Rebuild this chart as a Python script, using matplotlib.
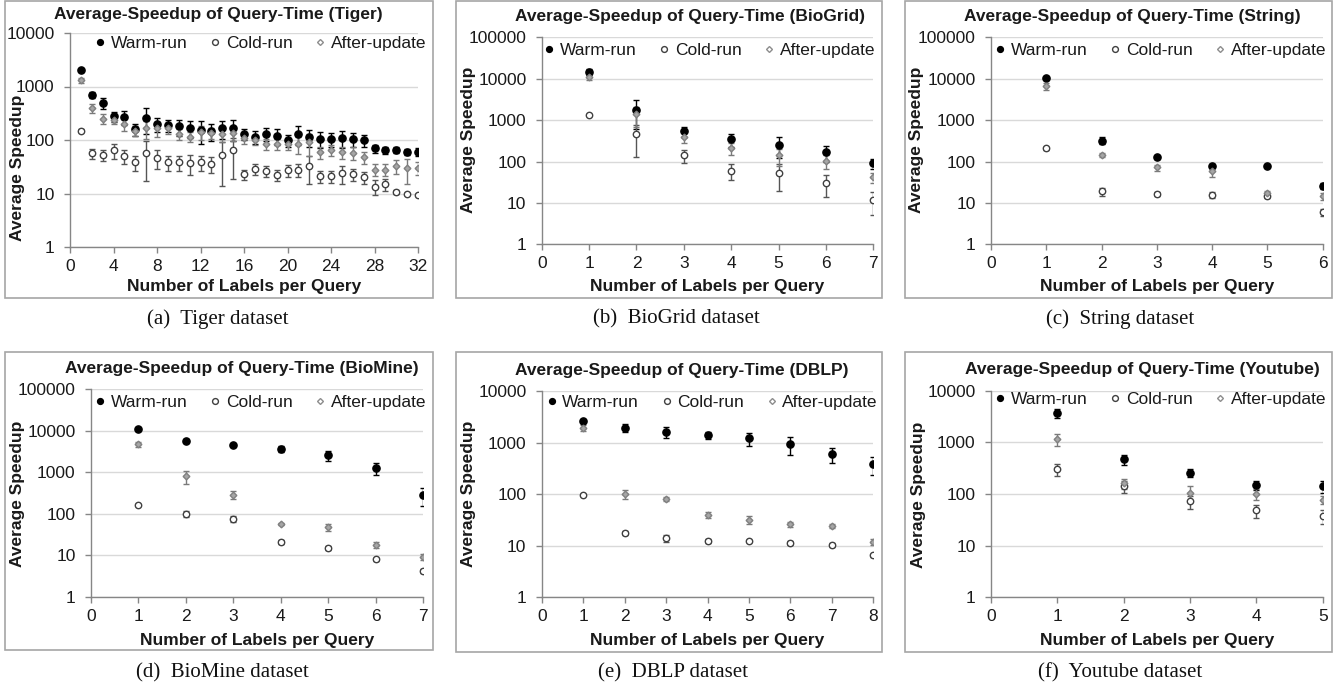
import matplotlib
matplotlib.use("Agg")
import matplotlib.pyplot as plt
import numpy as np
from matplotlib.patches import Rectangle
from matplotlib.lines import Line2D
from matplotlib.ticker import FixedLocator, FuncFormatter, NullLocator

plt.rcParams['font.family'] = ['Liberation Sans', 'DejaVu Sans']

# ---------------- data ----------------
series_names = ["Warm-run", "Cold-run", "After-update"]

# (a) Tiger
tiger_x = list(range(1, 33))
tiger_warm = [2000, 700, 500, 280, 270, 160, 260, 200, 190, 180, 170, 155, 145, 165, 165, 128,
              115, 130, 120, 100, 130, 115, 105, 105, 110, 105, 100, 70, 65, 65, 60, 60]
tiger_warm_err = [0, 100, 120, 60, 80, 40, 130, 60, 50, 60, 60, 70, 50, 60, 70, 30,
                  30, 35, 40, 25, 50, 40, 35, 30, 40, 30, 25, 12, 10, 8, 8, 10]
tiger_cold = [150, 57, 53, 65, 50, 38, 57, 47, 38, 38, 37, 38, 36, 52, 64, 23,
              29, 26, 22, 27, 28, 33, 21, 21, 24, 23, 20, 13.5, 15, 10.7, 9.8, 9.5]
tiger_cold_err = [10, 12, 12, 20, 15, 12, 40, 18, 12, 12, 15, 12, 12, 38, 45, 5,
                  7, 6, 5, 7, 8, 18, 5, 5, 9, 6, 5, 4, 4, 1, 0.5, 0.5]
tiger_after = [1300, 400, 250, 240, 200, 150, 165, 165, 170, 130, 115, 140, 135, 130, 135, 110,
               100, 85, 85, 85, 85, 90, 60, 65, 60, 58, 48, 28, 28, 33, 30, 30]
tiger_after_err = [150, 80, 50, 40, 50, 30, 60, 50, 40, 30, 25, 40, 30, 40, 40, 25,
                   20, 20, 20, 20, 30, 40, 15, 15, 15, 15, 12, 7, 7, 10, 15, 8]

# (b) BioGrid
biogrid_x = [1, 2, 3, 4, 5, 6, 7]
biogrid_warm = [14500, 1800, 550, 340, 250, 170, 90]
biogrid_warm_err = [2500, 1200, 150, 120, 130, 70, 25]
biogrid_cold = [1300, 450, 140, 60, 52, 31, 11.5]
biogrid_cold_err = [0, 320, 50, 25, 33, 17, 6.5]
biogrid_after = [11000, 1400, 380, 210, 140, 105, 42]
biogrid_after_err = [1500, 700, 100, 70, 60, 40, 12]

# (c) String
string_x = [1, 2, 3, 4, 5, 6]
string_warm = [10500, 320, 125, 78, 77, 26]
string_warm_err = [0, 60, 10, 8, 5, 4]
string_cold = [210, 19, 16.5, 15.5, 15, 6]
string_cold_err = [20, 4, 2, 2.5, 2, 1.2]
string_after = [6500, 145, 72, 58, 17, 14.5]
string_after_err = [1200, 15, 12, 15, 2.5, 3]

# (d) BioMine
biomine_x = [1, 2, 3, 4, 5, 6, 7]
biomine_warm = [11000, 5800, 4600, 3600, 2600, 1250, 280]
biomine_warm_err = [0, 500, 300, 600, 700, 400, 130]
biomine_cold = [165, 100, 75, 21, 15, 8, 4.2]
biomine_cold_err = [10, 15, 12, 2, 1.5, 0.8, 0.5]
biomine_after = [4800, 800, 290, 57, 48, 18, 9.3]
biomine_after_err = [700, 270, 60, 4, 10, 3, 1.5]

# (e) DBLP
dblp_x = [1, 2, 3, 4, 5, 6, 7, 8]
dblp_warm = [2600, 1950, 1600, 1380, 1200, 930, 600, 380]
dblp_warm_err = [100, 350, 400, 200, 350, 350, 200, 150]
dblp_cold = [95, 18, 14, 12.5, 12.2, 11.5, 10.3, 6.5]
dblp_cold_err = [0, 1.5, 2, 1, 0.5, 1, 1, 0.5]
dblp_after = [1950, 100, 82, 40, 32, 26, 24, 12]
dblp_after_err = [250, 18, 8, 6, 6, 3, 2, 1.5]

# (f) Youtube
youtube_x = [1, 2, 3, 4, 5]
youtube_warm = [3700, 470, 260, 150, 140]
youtube_warm_err = [700, 100, 50, 30, 35]
youtube_cold = [300, 140, 72, 48, 37]
youtube_cold_err = [80, 35, 20, 13, 11]
youtube_after = [1150, 160, 105, 100, 78]
youtube_after_err = [300, 35, 35, 25, 15]

titles = ["Average-Speedup of Query-Time (Tiger)",
          "Average-Speedup of Query-Time (BioGrid)",
          "Average-Speedup of Query-Time (String)",
          "Average-Speedup of Query-Time (BioMine)",
          "Average-Speedup of Query-Time (DBLP)",
          "Average-Speedup of Query-Time (Youtube)"]
captions = ["(a)  Tiger dataset", "(b)  BioGrid dataset", "(c)  String dataset",
            "(d)  BioMine dataset", "(e)  DBLP dataset", "(f)  Youtube dataset"]
xlabel = "Number of Labels per Query"
ylabel = "Average Speedup"

# ---------------- layout (pixels) ----------------
W, H = 1336, 690
fig = plt.figure(figsize=(W / 100, H / 100), dpi=100)

def fx(px):
    return px / W

def fy(py):
    return 1 - py / H

panels = [
    dict(ax=(70, 418, 33, 247), frame=(5, 432.7, 0.5, 298.3), xmax=32, xstep=4, ymax=10000,
         title=(218, 15), ylab=(18, 168), xlab=(244, 287), leg=(261, 43.5), cap=(218, 319),
         data=(tiger_x, tiger_warm, tiger_warm_err, tiger_cold, tiger_cold_err, tiger_after, tiger_after_err)),
    dict(ax=(541.7, 873.3, 37.3, 244.3), frame=(456, 882.3, 0.5, 298.3), xmax=7, xstep=1, ymax=100000,
         title=(689.5, 16.5), ylab=(468, 140), xlab=(707.5, 287), leg=(710, 50), cap=(676, 319),
         data=(biogrid_x, biogrid_warm, biogrid_warm_err, biogrid_cold, biogrid_cold_err, biogrid_after, biogrid_after_err)),
    dict(ax=(991, 1322.7, 37.3, 244.3), frame=(905.3, 1332, 0.5, 298.3), xmax=6, xstep=1, ymax=100000,
         title=(1132.5, 16), ylab=(917, 140), xlab=(1156.8, 287), leg=(1161, 50), cap=(1120, 319),
         data=(string_x, string_warm, string_warm_err, string_cold, string_cold_err, string_after, string_after_err)),
    dict(ax=(91, 423.3, 389.3, 596.7), frame=(5, 432.7, 351.7, 650), xmax=7, xstep=1, ymax=100000,
         title=(242, 368.3), ylab=(18, 494), xlab=(257, 640), leg=(261, 402.3), cap=(222, 673),
         data=(biomine_x, biomine_warm, biomine_warm_err, biomine_cold, biomine_cold_err, biomine_after, biomine_after_err)),
    dict(ax=(541.7, 873.3, 391, 597.3), frame=(456, 882.3, 351.7, 651.7), xmax=8, xstep=1, ymax=10000,
         title=(681.7, 370), ylab=(468, 494), xlab=(707.5, 640), leg=(712.5, 402.3), cap=(673, 673),
         data=(dblp_x, dblp_warm, dblp_warm_err, dblp_cold, dblp_cold_err, dblp_after, dblp_after_err)),
    dict(ax=(991, 1322.7, 390.7, 597.3), frame=(905.3, 1332, 351.7, 651.7), xmax=5, xstep=1, ymax=10000,
         title=(1142.5, 369.3), ylab=(918, 495), xlab=(1156.8, 640), leg=(1161, 399.3), cap=(1120, 673),
         data=(youtube_x, youtube_warm, youtube_warm_err, youtube_cold, youtube_cold_err, youtube_after, youtube_after_err)),
]

GRID = '#d9d9d9'
AXC = '#868686'
FS = 12.5

styles = [
    dict(marker='o', ms=5.2, mfc='black', mec='black', ecolor='black'),
    dict(marker='o', ms=4.6, mfc='white', mec='#404040', ecolor='#555555'),
    dict(marker='D', ms=3.4, mfc='#a6a6a6', mec='#808080', ecolor='#7a7a7a'),
]

for i, p in enumerate(panels):
    l, r, t, b = p['ax']
    ax = fig.add_axes([fx(l), fy(b), fx(r) - fx(l), fy(t) - fy(b)])
    # frame around the panel
    fl, fr, ft, fb = p['frame']
    fig.patches.append(Rectangle((fx(fl), fy(fb)), fx(fr) - fx(fl), fy(ft) - fy(fb),
                                 transform=fig.transFigure, fill=False,
                                 edgecolor='#a6a6a6', linewidth=1.2, zorder=0))
    xs, w, we, c, ce, a, ae = p['data']
    ax.set_yscale('log')
    ax.set_ylim(1, p['ymax'])
    ax.set_xlim(0, p['xmax'])
    decades = [10 ** k for k in range(int(round(np.log10(p['ymax']))) + 1)]
    ax.yaxis.set_major_locator(FixedLocator(decades))
    ax.yaxis.set_minor_locator(NullLocator())
    ax.yaxis.set_major_formatter(FuncFormatter(lambda v, pos: f"{int(round(v))}"))
    ax.set_xticks(np.arange(0, p['xmax'] + 0.01, p['xstep']))
    ax.grid(axis='y', color=GRID, linewidth=1.0, zorder=0)
    ax.set_axisbelow(True)
    for s in ['top', 'right']:
        ax.spines[s].set_visible(False)
    for s in ['left', 'bottom']:
        ax.spines[s].set_color(AXC)
        ax.spines[s].set_linewidth(1.0)
    ax.tick_params(axis='both', which='major', labelsize=FS, colors=AXC, labelcolor='#1a1a1a',
                   length=4, width=1.0, direction='out')
    ax.tick_params(axis='y', pad=7)
    ax.tick_params(axis='x', pad=4.5)

    for (vals, errs), st in zip([(w, we), (c, ce), (a, ae)], styles):
        ax.errorbar(xs, vals, yerr=errs, fmt='none', ecolor=st['ecolor'],
                    elinewidth=1.0, capsize=2.2, capthick=1.0, zorder=3)
        ax.plot(xs, vals, linestyle='none', marker=st['marker'], markersize=st['ms'],
                markerfacecolor=st['mfc'], markeredgecolor=st['mec'], markeredgewidth=1.0, zorder=4)

    # legend
    handles = [
        Line2D([], [], linestyle='none', marker='o', markersize=4.2, markerfacecolor='black', markeredgecolor='black'),
        Line2D([], [], linestyle='none', marker='o', markersize=4.2, markerfacecolor='white', markeredgecolor='#404040'),
        Line2D([], [], linestyle='none', marker='D', markersize=3.0, markerfacecolor='white', markeredgecolor='#8c8c8c'),
    ]
    lx, ly = p['leg']
    ax.legend(handles, series_names, loc='center', bbox_to_anchor=(fx(lx), fy(ly)),
              bbox_transform=fig.transFigure, ncol=3, frameon=False, fontsize=FS,
              handlelength=0.5, handletextpad=0.35, columnspacing=1.35, borderpad=0,
              labelcolor='#1a1a1a')

    tx, ty = p['title']
    fig.text(fx(tx), fy(ty), titles[i], ha='center', va='center', fontsize=FS,
             fontweight='bold', color='#1a1a1a')
    yx, yy = p['ylab']
    fig.text(fx(yx), fy(yy), ylabel, ha='center', va='center', rotation=90,
             fontsize=FS, fontweight='bold', color='#1a1a1a')
    xx, xy = p['xlab']
    fig.text(fx(xx), fy(xy), xlabel, ha='center', va='center', fontsize=FS,
             fontweight='bold', color='#1a1a1a')
    cx, cy = p['cap']
    fig.text(fx(cx), fy(cy), captions[i], ha='center', va='center', fontsize=15,
             family=['Liberation Serif', 'DejaVu Serif'], color='#111111')

fig.savefig('out.png', dpi=100, facecolor='white')
